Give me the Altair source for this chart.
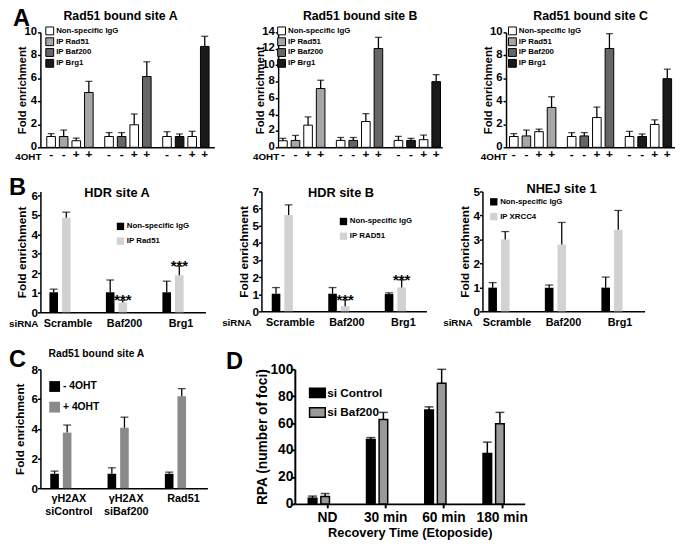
import altair as alt
import pandas as pd

FONT = "Liberation Sans"

# ---------------- Panel A data ----------------
a_groups = ["Rad51", "Baf200", "Brg1"]
a_oht = ["-", "-", "+", "+"]
a_series = ["Non-specific IgG", "IP Rad51", "IP Baf200", "IP Brg1"]
a_colors = ["#ffffff", "#a6a6a6", "#666666", "#1a1a1a"]
a_titles = ["Rad51 bound site A", "Rad51 bound site B", "Rad51 bound site C"]

siteA_vals = [[0.94, 0.94, 0.57, 4.77], [0.94, 0.94, 1.96, 6.16], [0.94, 0.94, 0.94, 8.78]]
siteA_errs = [[0.25, 0.56, 0.23, 0.97], [0.34, 0.34, 0.94, 1.28], [0.42, 0.22, 0.45, 0.88]]
siteB_vals = [[0.80, 0.84, 2.70, 7.16], [0.84, 0.84, 3.14, 12.03], [0.84, 0.84, 0.93, 8.00]]
siteB_errs = [[0.29, 0.61, 1.00, 1.01], [0.36, 0.36, 0.96, 1.37], [0.49, 0.25, 0.56, 0.85]]
siteC_vals = [[0.94, 0.99, 1.36, 3.47], [0.94, 0.99, 2.59, 8.60], [0.94, 0.94, 1.99, 5.97]]
siteC_errs = [[0.25, 0.51, 0.23, 0.93], [0.34, 0.29, 0.91, 1.29], [0.45, 0.22, 0.40, 0.83]]

# ---------------- Panel B data ----------------
b_sirna = ["Scramble", "Baf200", "Brg1"]
b_colors = ["#000000", "#d2d2d2"]
hdrA_igg = [1.03, 1.03, 1.03]
hdrA_igg_err = [0.16, 0.63, 0.57]
hdrA_ip = [4.86, 0.50, 1.90]
hdrA_ip_err = [0.28, 0.12, 0.47]
hdrA_stars = ["", "***", "***"]
hdrB_igg = [1.03, 1.03, 1.01]
hdrB_igg_err = [0.36, 0.36, 0.07]
hdrB_ip = [5.63, 0.30, 1.39]
hdrB_ip_err = [0.59, 0.37, 0.45]
hdrB_stars = ["", "***", "***"]
nhej_igg = [0.99, 0.99, 0.99]
nhej_igg_err = [0.21, 0.11, 0.44]
nhej_ip = [3.00, 2.79, 3.40]
nhej_ip_err = [0.33, 0.92, 0.81]
nhej_stars = ["", "", ""]

# ---------------- Panel C data ----------------
c_groups = ["γH2AX|siControl", "γH2AX|siBaf200", "Rad51"]
c_series = ["- 4OHT", "+ 4OHT"]
c_colors = ["#000000", "#8a8a8a"]
c_minus = [0.97, 0.97, 0.97]
c_minus_err = [0.18, 0.40, 0.11]
c_plus = [3.74, 4.07, 6.19]
c_plus_err = [0.51, 0.71, 0.51]

# ---------------- Panel D data ----------------
d_times = ["ND", "30 min", "60 min", "180 min"]
d_series = ["si Control", "si Baf200"]
d_colors = ["#000000", "#9a9a9a"]
d_ctrl = [4.3, 47.8, 69.7, 37.5]
d_ctrl_err = [1.5, 1.5, 2.4, 8.4]
d_baf = [5.5, 62.7, 89.7, 59.6]
d_baf_err = [2.2, 5.3, 10.3, 8.4]


def note(text, x, y, size, align="left", baseline="top"):
    return alt.Chart(pd.DataFrame({"t": [text]})).mark_text(
        align=align, baseline=baseline, fontSize=size, fontWeight="bold",
        font=FONT, color="black").encode(text="t:N", x=alt.value(x), y=alt.value(y))


def yaxis(values, title, label_size=12, title_size=12, width=1.5, tick=3, title_pad=4,
          label_pad=0, label_off=0):
    return alt.Axis(values=values, title=title, labelFontSize=label_size,
                    titleFontSize=title_size, tickSize=tick, tickWidth=width,
                    domainWidth=width, labelPadding=label_pad, titlePadding=title_pad,
                    labelOverlap=False, labelBound=False, labelOffset=label_off)


def ychans(dom, axis):
    sc = alt.Scale(domain=[0, dom], nice=False)
    return (alt.Y("value:Q", scale=sc, axis=axis),
            alt.Y("upper:Q", scale=sc, axis=axis))


def legend(x, y, size, font, row_pad, stroke=None, stype="square", offset=2):
    kw = dict(title=None, orient="none", legendX=x, legendY=y, symbolType=stype,
              symbolSize=size, labelFontSize=font, rowPadding=row_pad,
              labelOffset=offset, symbolOpacity=1)
    if stroke:
        kw.update(symbolStrokeColor="black", symbolStrokeWidth=stroke)
    return alt.Legend(**kw)


# ---------------- builders ----------------
def panel_a(i, vals, errs, ymax, ystep, width, po, align, lx, ly, letter, tdx):
    h = 117
    rows = []
    for gi, g in enumerate(a_groups):
        for k in range(4):
            rows.append({"group": g, "slot": k,
                         "series": a_series[0] if k % 2 == 0 else "IP " + g,
                         "value": vals[gi][k], "upper": vals[gi][k] + errs[gi][k],
                         "oht": a_oht[k]})
    df = pd.DataFrame(rows)
    x = alt.X("group:N", sort=a_groups, title=None,
              scale=alt.Scale(paddingInner=0.2, paddingOuter=po, align=align),
              axis=alt.Axis(labels=False, ticks=False, domainWidth=1.5))
    xo = alt.XOffset("slot:O", scale=alt.Scale(paddingInner=0.315, paddingOuter=0))
    y, yu = ychans(ymax, yaxis(list(range(0, ymax + 1, ystep)), "Fold enrichment", 11.5,
                               11.5, label_pad=1, label_off=-1, title_pad=-3.5))
    base = alt.Chart(df)
    bars = base.mark_bar(stroke="black", strokeWidth=1).encode(
        x=x, xOffset=xo, y=y,
        color=alt.Color("series:N", scale=alt.Scale(domain=a_series, range=a_colors),
                        legend=legend(lx, ly, 64, 8, -2, stroke=1)))
    rule = base.mark_rule(color="black", strokeWidth=1.3).encode(
        x=x, xOffset=xo, y=y, y2="upper:Q")
    cap = base.mark_tick(color="black", thickness=1.3, size=7).encode(
        x=x, xOffset=xo, y=yu)
    signs = base.mark_text(fontSize=12, fontWeight="bold", font=FONT,
                           baseline="middle").encode(
        x=x, xOffset=xo, y=alt.value(h + 7), text="oht:N")
    layers = [bars, rule, cap, signs,
              note("4OHT", 1, h + 10, 10, "right", "middle"),
              note(a_titles[i], width / 2 + tdx, -13, 12.5, "center", "alphabetic")]
    if letter:
        layers.append(note(letter, -28, -25, 24))
    return alt.layer(*layers).properties(width=width, height=h)


def panel_b(title, igg, igg_err, ip, ip_err, stars, ip_name, ymax, dom, h, width,
            po, align, lx, ly, tdx, ty, letter):
    series = ["Non-specific IgG", ip_name]
    rows = []
    for si, (v, e) in enumerate([(igg, igg_err), (ip, ip_err)]):
        for ci, c in enumerate(b_sirna):
            rows.append({"cat": c, "slot": si, "series": series[si], "value": v[ci],
                         "upper": v[ci] + e[ci], "star": stars[ci] if si == 1 else ""})
    df = pd.DataFrame(rows)
    x = alt.X("cat:N", sort=b_sirna, title=None,
              scale=alt.Scale(paddingInner=0.34, paddingOuter=po, align=align),
              axis=alt.Axis(ticks=False, domainWidth=1.5, labelFontSize=11,
                            labelPadding=5, labelAngle=0))
    xo = alt.XOffset("slot:O", scale=alt.Scale(paddingInner=0.273, paddingOuter=0))
    y, yu = ychans(dom, yaxis(list(range(0, ymax + 1)), "Fold enrichment", 12, 12,
                              title_pad=2))
    base = alt.Chart(df)
    bars = base.mark_bar().encode(
        x=x, xOffset=xo, y=y,
        color=alt.Color("series:N", scale=alt.Scale(domain=series, range=b_colors),
                        legend=legend(lx, ly, 56, 8, 6)))
    rule = base.mark_rule(color="black", strokeWidth=1.3).encode(
        x=x, xOffset=xo, y=y, y2="upper:Q")
    cap = base.mark_tick(color="black", thickness=1.3, size=8).encode(
        x=x, xOffset=xo, y=yu)
    star = base.transform_filter("datum.star != ''").mark_text(
        fontSize=15, fontWeight="bold", font=FONT, baseline="alphabetic", dy=5).encode(
        x=x, xOffset=xo, y=yu, text="star:N")
    layers = [bars, rule, cap, star,
              note("siRNA", -2 if letter else -10, h + 12, 10, "right", "middle"),
              note(title, width / 2 + tdx, ty, 13, "center", "alphabetic")]
    if letter:
        layers.append(note(letter, -32, -15, 24))
    return alt.layer(*layers).properties(width=width, height=h)


def panel_c():
    h = 121
    rows = []
    for si, (v, e) in enumerate([(c_minus, c_minus_err), (c_plus, c_plus_err)]):
        for ci, c in enumerate(c_groups):
            rows.append({"cat": c, "slot": si, "series": c_series[si],
                         "value": v[ci], "upper": v[ci] + e[ci]})
    df = pd.DataFrame(rows)
    x = alt.X("cat:N", sort=c_groups, title=None,
              scale=alt.Scale(paddingInner=0.35, paddingOuter=0.132, align=0.65),
              axis=alt.Axis(ticks=False, domainWidth=1.5, labelFontSize=11,
                            labelPadding=5, labelAngle=0, labelLineHeight=13,
                            labelExpr="split(datum.label, '|')"))
    xo = alt.XOffset("slot:O", scale=alt.Scale(paddingInner=0.273, paddingOuter=0))
    y, yu = ychans(8, yaxis([0, 2, 4, 6, 8], "Fold enrichment", 12, 12, title_pad=5))
    base = alt.Chart(df)
    bars = base.mark_bar().encode(
        x=x, xOffset=xo, y=y,
        color=alt.Color("series:N", scale=alt.Scale(domain=c_series, range=c_colors),
                        legend=legend(8, 11, 121, 10.5, 9)))
    rule = base.mark_rule(color="black", strokeWidth=1.3).encode(
        x=x, xOffset=xo, y=y, y2="upper:Q")
    cap = base.mark_tick(color="black", thickness=1.3, size=8).encode(
        x=x, xOffset=xo, y=yu)
    return alt.layer(bars, rule, cap,
                     note("Rad51 bound site A", 57, -13, 10.5, "center", "alphabetic"),
                     note("C", -32, -21, 24)).properties(width=170, height=h)


def panel_d():
    h = 137
    rows = []
    for si, (v, e) in enumerate([(d_ctrl, d_ctrl_err), (d_baf, d_baf_err)]):
        for ci, c in enumerate(d_times):
            rows.append({"cat": c, "slot": si, "series": d_series[si],
                         "value": v[ci], "upper": v[ci] + e[ci]})
    df = pd.DataFrame(rows)
    x = alt.X("cat:N", sort=d_times, title="Recovery Time (Etoposide)",
              scale=alt.Scale(paddingInner=0.342, paddingOuter=0.144, align=0.8),
              axis=alt.Axis(tickSize=4, tickWidth=2, domainWidth=2, labelFontSize=14,
                            labelPadding=3, labelAngle=0, titleFontSize=13,
                            titlePadding=2))
    xo = alt.XOffset("slot:O", scale=alt.Scale(paddingInner=0.267, paddingOuter=0))
    y, yu = ychans(100, yaxis([0, 20, 40, 60, 80, 100], "RPA (number of foci)", 14, 14,
                              width=2, tick=4, title_pad=0, label_pad=-2))
    base = alt.Chart(df)
    bars = base.mark_bar(stroke="black", strokeWidth=1.5).encode(
        x=x, xOffset=xo, y=y,
        color=alt.Color("series:N", scale=alt.Scale(domain=d_series, range=d_colors),
                        legend=legend(14, 15, 256, 12, 3, stroke=1.5,
                                      stype="M-1,-0.6H1V0.6H-1Z", offset=1)))
    rule = base.mark_rule(color="black", strokeWidth=1.5).encode(
        x=x, xOffset=xo, y=y, y2="upper:Q")
    cap = base.mark_tick(color="black", thickness=1.5, size=9).encode(
        x=x, xOffset=xo, y=yu)
    return alt.layer(bars, rule, cap, note("D", -70, -19, 24)).properties(
        width=234, height=h)


a1 = panel_a(0, siteA_vals, siteA_errs, 10, 2, 177, 0.10, 0.55, 5, -6, "A", -7)
a2 = panel_a(1, siteB_vals, siteB_errs, 14, 2, 167, 0.02, 0.2, -1, -6, None, 0)
a3 = panel_a(2, siteC_vals, siteC_errs, 10, 2, 172, 0.06, 0.5, 2, -6, None, 0)

b1 = panel_b("HDR site A", hdrA_igg, hdrA_igg_err, hdrA_ip, hdrA_ip_err, hdrA_stars,
             "IP Rad51", 6, 6.2, 123, 168, 0.13, 0.61, 77, 31, -6, 6, "B")
b2 = panel_b("HDR site B", hdrB_igg, hdrB_igg_err, hdrB_ip, hdrB_ip_err, hdrB_stars,
             "IP RAD51", 7, 7, 122, 168, 0.13, 0.7, 79, 26, -3, 6, None)
b3 = panel_b("NHEJ site 1", nhej_igg, nhej_igg_err, nhej_ip, nhej_ip_err, nhej_stars,
             "IP XRCC4", 5, 5, 122, 165, 0.104, 0.5, 7, 6, -2, 2, None)

row_a = alt.hconcat(a1, a2, a3, spacing=65, bounds="flush").resolve_scale(color="independent")
row_b = alt.hconcat(b1, b2, b3, spacing=57, bounds="flush").resolve_scale(color="independent")
row_c = alt.hconcat(panel_c(), panel_d(), spacing=89, bounds="flush").resolve_scale(color="independent")
lower = alt.vconcat(row_b, row_c, spacing=20).resolve_scale(color="independent")

chart = alt.vconcat(
    row_a, lower, spacing=15,
    padding={"top": -5, "left": 0, "right": 0, "bottom": 0}
).resolve_scale(
    color="independent"
).configure_view(stroke=None).configure_axis(
    labelFont=FONT, titleFont=FONT, labelFontWeight="bold", titleFontWeight="bold",
    labelColor="black", titleColor="black", domainColor="black", tickColor="black",
    grid=False, labelOverlap=False
).configure_legend(
    labelFont=FONT, labelColor="black", labelFontWeight="bold"
).properties(background="white")

chart.save("out.html", embed_options={"renderer": "svg", "actions": False})
